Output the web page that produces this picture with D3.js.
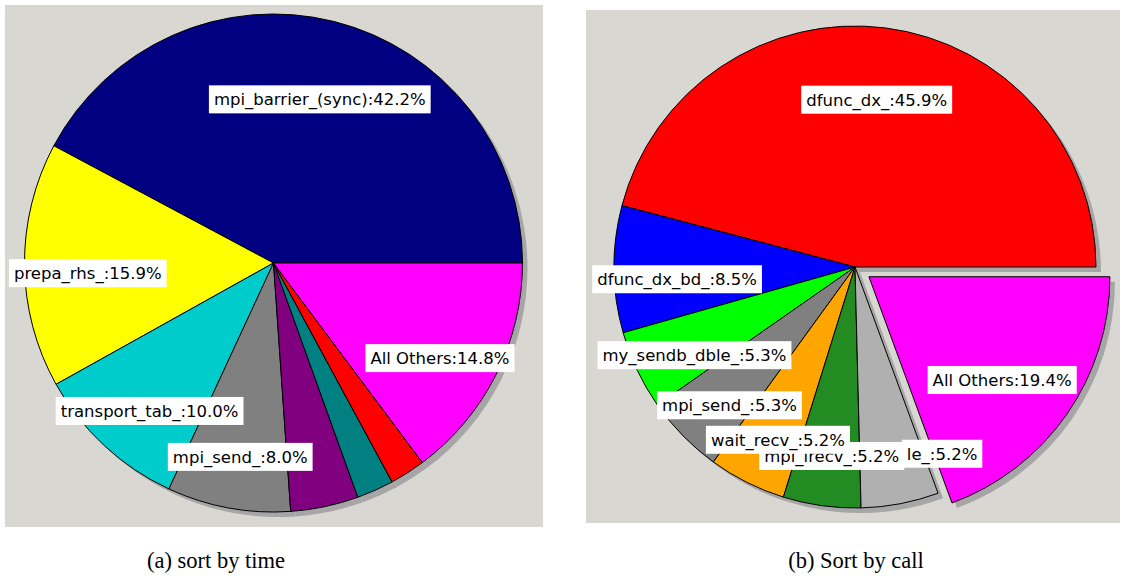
<!DOCTYPE html>
<html>
<head>
<meta charset="utf-8">
<script src="https://cdn.jsdelivr.net/npm/d3@7/dist/d3.min.js"></script>
<style>
  html, body { margin: 0; padding: 0; background: #ffffff; }
  svg { display: block; }
</style>
</head>
<body>
<svg id="chart" width="1125" height="578"></svg>
<script>
// (a) profile sorted by time
const timeNames  = ["mpi_barrier_(sync)", "prepa_rhs_", "transport_tab_", "mpi_send_", "", "", "", "All Others"];
const timeValues = [42.2, 15.9, 10.0, 8.0, 4.4, 2.4, 2.3, 14.8];
const timeColors = ["#000080", "#ffff00", "#00cccc", "#808080", "#800080", "#008080", "#ff0000", "#ff00ff"];

// (b) profile sorted by call count
const callNames  = ["dfunc_dx_", "dfunc_dx_bd_", "my_sendb_dble_", "mpi_send_", "wait_recv_", "mpi_irecv_", "le_", "All Others"];
const callValues = [45.9, 8.5, 5.3, 5.3, 5.2, 5.2, 5.2, 19.4];
const callColors = ["#ff0000", "#0000ff", "#00ff00", "#808080", "#ffa500", "#228b22", "#b0b0b0", "#ff00ff"];

const captions = ["(a) sort by time", "(b) Sort by call"];

// label placement: [fraction of radius, angular nudge in degrees (counter-clockwise)]
const timeLabelPlace = [[0.683, -1.75], [0.747, 2.6], [0.775, 2.9], [0.79, 0.7], null, null, null, [0.77, -3.1]];
const callLabelPlace = [[0.70, 0], [0.74, 3.4], [0.76, 3.4], [0.775, 3.3], [0.785, 2.6], [0.79, 0.9], [0.855, 14.2], [0.77, -2.6]];

const svg = d3.select("#chart");
const deg = Math.PI / 180;

function drawPie(cfg) {
  const g = svg.append("g");
  // panel
  g.append("rect")
    .attr("x", cfg.panel[0]).attr("y", cfg.panel[1])
    .attr("width", cfg.panel[2]).attr("height", cfg.panel[3])
    .attr("fill", "#d9d7d1");

  const data = cfg.values.map((v, i) => ({ name: cfg.names[i], value: v, color: cfg.colors[i], i }));
  // slices run counter-clockwise starting at 3 o'clock
  const pie = d3.pie().value(d => d.value).sort(null)
    .startAngle(Math.PI / 2).endAngle(Math.PI / 2 - 2 * Math.PI);
  const arcs = pie(data);
  const arc = d3.arc().innerRadius(0).outerRadius(cfg.r);

  const offsetOf = a => {
    if (a.data.i !== cfg.explode) return [0, 0];
    const m = (a.startAngle + a.endAngle) / 2;
    return [Math.sin(m) * cfg.explodeDist, -Math.cos(m) * cfg.explodeDist];
  };

  const pg = g.append("g").attr("transform", `translate(${cfg.cx},${cfg.cy})`);
  // drop shadow
  pg.selectAll("path.shadow").data(arcs).join("path")
    .attr("class", "shadow")
    .attr("d", arc)
    .attr("fill", "#a6a6a6")
    .attr("transform", a => { const o = offsetOf(a); return `translate(${o[0] + 5},${o[1] + 5})`; });
  // slices
  pg.selectAll("path.slice").data(arcs).join("path")
    .attr("class", "slice")
    .attr("d", arc)
    .attr("fill", a => a.data.color)
    .attr("stroke", "#000")
    .attr("stroke-width", 1)
    .attr("stroke-linejoin", "round")
    .attr("transform", a => { const o = offsetOf(a); return `translate(${o[0]},${o[1]})`; });

  // labels (later slices underneath earlier ones)
  const lg = pg.append("g");
  arcs.slice().reverse().forEach(a => {
    const place = cfg.place[a.data.i];
    if (!place || !a.data.name) return;
    const m = (a.startAngle + a.endAngle) / 2 - place[1] * deg;
    const rr = cfg.r * place[0];
    const x = Math.sin(m) * rr, y = -Math.cos(m) * rr;
    const lab = lg.append("g").attr("transform", `translate(${x},${y})`);
    const rect = lab.append("rect").attr("fill", "#ffffff");
    const t = lab.append("text")
      .attr("text-anchor", "middle")
      .attr("dy", "0.36em")
      .attr("font-family", "DejaVu Sans, sans-serif")
      .attr("font-size", 16.5)
      .attr("fill", "#000")
      .text(`${a.data.name}:${a.data.value.toFixed(1)}%`);
    const bb = t.node().getBBox();
    rect.attr("x", bb.x - 5).attr("y", -14).attr("width", bb.width + 10).attr("height", 28);
  });

  svg.append("text")
    .attr("x", cfg.capX).attr("y", 568)
    .attr("text-anchor", "middle")
    .attr("font-family", "Liberation Serif, serif")
    .attr("font-size", 22.5)
    .attr("fill", "#000")
    .text(cfg.caption);
}

drawPie({
  panel: [5, 5, 538, 522], cx: 273.5, cy: 263, r: 249,
  names: timeNames, values: timeValues, colors: timeColors,
  place: timeLabelPlace, explode: -1, explodeDist: 0,
  caption: captions[0], capX: 216
});

drawPie({
  panel: [586, 10, 534, 513], cx: 855, cy: 267, r: 241,
  names: callNames, values: callValues, colors: callColors,
  place: callLabelPlace, explode: 7, explodeDist: 17,
  caption: captions[1], capX: 856
});
</script>
</body>
</html>
